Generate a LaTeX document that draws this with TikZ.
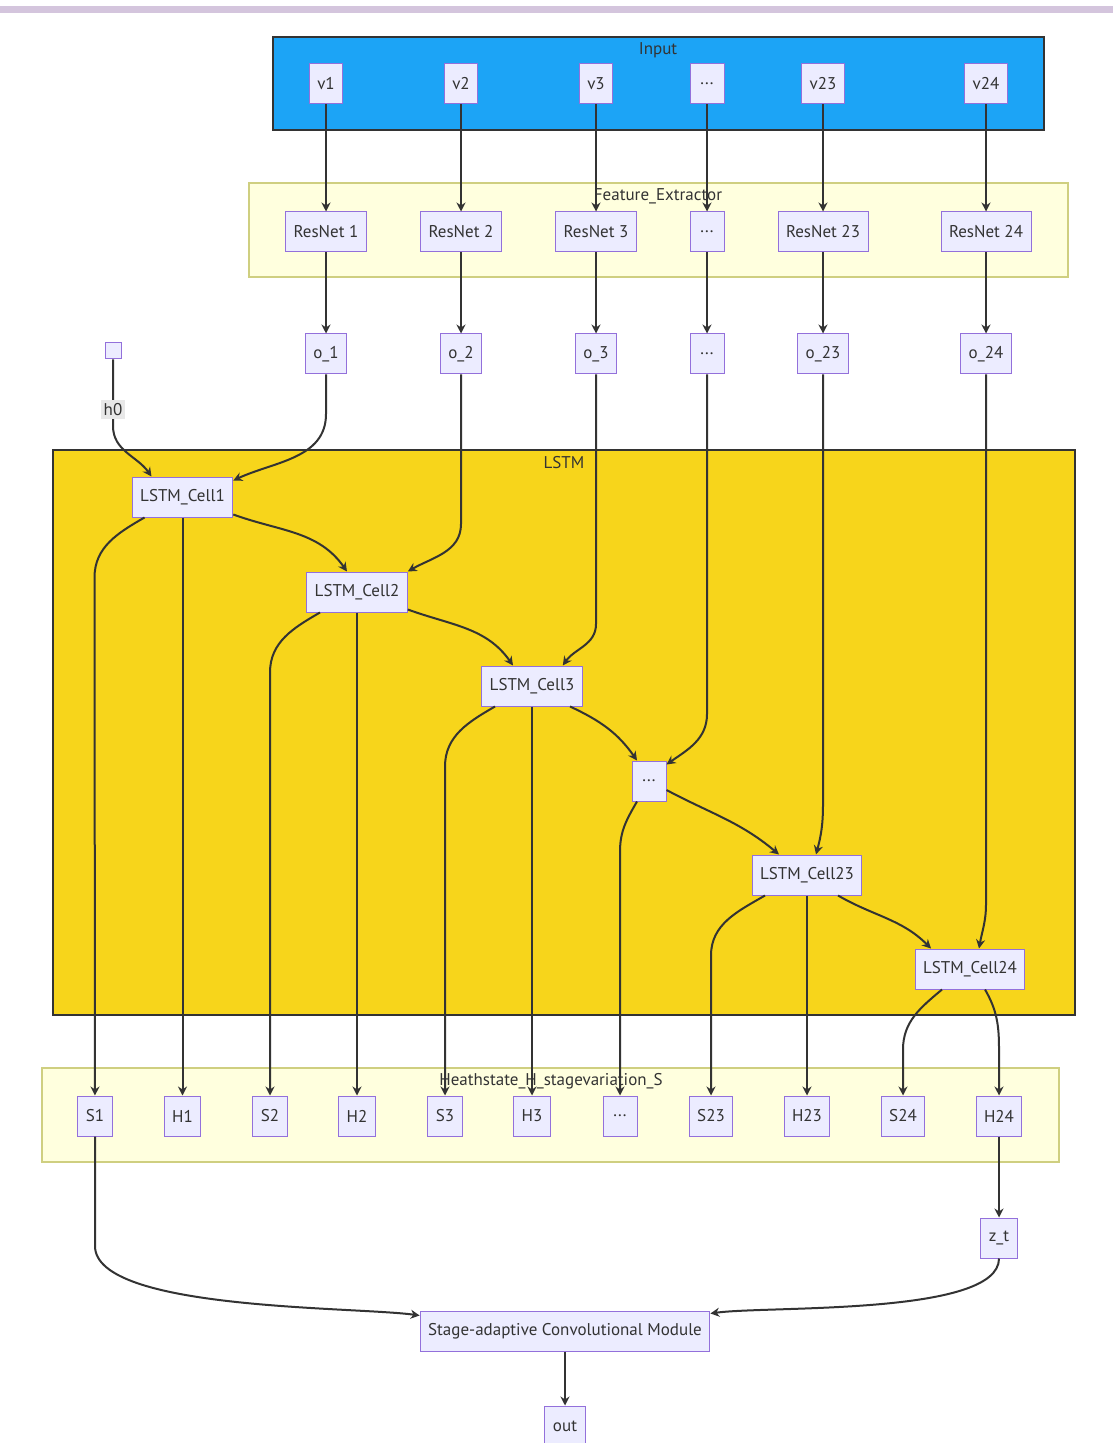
\documentclass[tikz,border=0pt]{standalone}
\usepackage{fontspec}
\setmainfont{PT Sans}
\usepackage{tikz}
\usetikzlibrary{positioning}
\usetikzlibrary{arrows.meta}
\definecolor{nodefill}{HTML}{ECECFF}
\definecolor{nodeline}{HTML}{9370DB}
\definecolor{grpfill}{HTML}{FFFFDE}
\definecolor{grpline}{HTML}{CFCF80}
\definecolor{inblue}{HTML}{1CA4F6}
\definecolor{lstmgold}{HTML}{F7D51B}
\definecolor{edgegrey}{HTML}{333333}
\definecolor{topband}{HTML}{D4C5DD}
\definecolor{lblbg}{HTML}{E8E8E8}

\begin{document}
\begin{tikzpicture}[
x=0.5pt, y=-0.5pt,
>={Stealth[length=4.5pt, width=4.5pt]},
cell/.style={draw=nodeline, fill=nodefill, line width=0.5pt, minimum height=20pt, inner xsep=4pt, text=edgegrey, font=\fontsize{8.5}{10}\selectfont},
dotcell/.style={cell, minimum width=17pt},
grp/.style={draw=grpline, fill=grpfill, line width=0.6pt},
mainbox/.style={draw=edgegrey, line width=1pt},
grplabel/.style={inner sep=1pt, text=edgegrey, font=\fontsize{8.5}{10}\selectfont},
link/.style={->, draw=edgegrey, line width=1pt},
lbl/.style={fill=lblbg, inner sep=1.5pt, text=edgegrey, font=\fontsize{8.5}{10}\selectfont}
]
\useasboundingbox (0,0) rectangle (1113,1443);
\fill[topband] (0,6) rectangle (1113,13);

\draw[mainbox, fill=inblue] (273,37) rectangle (1044,130);
\node[grplabel] (inputlbl) at (658,50) {Input};
\draw[grp] (249,183) rectangle (1068,277);
\node[grplabel] (featlbl) at (658,196) {Feature\_Extractor};
\draw[mainbox, fill=lstmgold] (53,450) rectangle (1075,1015);
\node[grplabel] (lstmlbl) at (564,463) {LSTM};
\draw[grp] (42,1068) rectangle (1059,1162);
\node[grplabel] (hslbl) at (551,1081) {Heathstate\_H\_stagevariation\_S};

\node[cell] (v1) at (326,84) {v1};
\node[cell] (v2) at (461,84) {v2};
\node[cell] (v3) at (596,84) {v3};
\node[dotcell] (vd) at (707,84) {...};
\node[cell] (v23) at (823,84) {v23};
\node[cell] (v24) at (986,84) {v24};

\node[cell, below=53.5pt of v1] (r1) {ResNet 1};
\node[cell, below=53.5pt of v2] (r2) {ResNet 2};
\node[cell, below=53.5pt of v3] (r3) {ResNet 3};
\node[dotcell, below=53.5pt of vd] (rd) {...};
\node[cell, below=53.5pt of v23] (r23) {ResNet 23};
\node[cell, below=53.5pt of v24] (r24) {ResNet 24};

\node[cell, below=40.5pt of r1] (o1) {o\_1};
\node[cell, below=40.5pt of r2] (o2) {o\_2};
\node[cell, below=40.5pt of r3] (o3) {o\_3};
\node[dotcell, below=40.5pt of rd] (od) {...};
\node[cell, below=40.5pt of r23] (o23) {o\_23};
\node[cell, below=40.5pt of r24] (o24) {o\_24};
\node[cell, minimum size=8pt, minimum height=8pt, inner sep=0pt] (h0) at (113,351) {};

\node[cell] (c1) at (182.5,497) {LSTM\_Cell1};
\node[cell] (c2) at (357,592) {LSTM\_Cell2};
\node[cell] (c3) at (532,686) {LSTM\_Cell3};
\node[dotcell] (cd) at (649,781) {...};
\node[cell] (c23) at (807,875) {LSTM\_Cell23};
\node[cell] (c24) at (970,969) {LSTM\_Cell24};

\node[cell] (s1) at (95,1116) {S1};
\node[cell] (h1) at (182.5,1116) {H1};
\node[cell] (s2) at (270,1116) {S2};
\node[cell] (h2) at (357,1116) {H2};
\node[cell] (s3) at (445,1116) {S3};
\node[cell] (h3) at (532,1116) {H3};
\node[dotcell] (sd) at (620,1116) {...};
\node[cell] (s23) at (711,1116) {S23};
\node[cell] (h23) at (807,1116) {H23};
\node[cell] (s24) at (903,1116) {S24};
\node[cell] (h24) at (999,1116) {H24};

\node[cell, below=40.5pt of h24] (zt) {z\_t};
\node[cell] (stage) at (565,1331) {Stage-adaptive Convolutional Module};
\node[cell, below=27pt of stage] (out) {out};

\draw[link] (v1) -- (r1);
\draw[link] (v2) -- (r2);
\draw[link] (v3) -- (r3);
\draw[link] (vd) -- (rd);
\draw[link] (v23) -- (r23);
\draw[link] (v24) -- (r24);
\draw[link] (r1) -- (o1);
\draw[link] (r2) -- (o2);
\draw[link] (r3) -- (o3);
\draw[link] (rd) -- (od);
\draw[link] (r23) -- (o23);
\draw[link] (r24) -- (o24);

\draw[link] (h0) -- node[lbl, pos=0.75] (h0lbl) {h0} ++(0,75) to[out=-90, in=125] ([xshift=-15.5pt]c1.north);
\draw[link] (o1) -- ++(0,60) to[out=-90, in=25] ([yshift=-2pt]c1.north east);
\draw[link] (o2) -- ++(0,170) to[out=-90, in=30] (c2.north east);
\draw[link] (o3) -- ++(0,270) to[out=-90, in=55] ([xshift=-10pt]c3.north east);
\draw[link] (od) -- ++(0,360) to[out=-90, in=35] ([yshift=-2pt]cd.north east);
\draw[link] (o23) -- ++(0,450) to[out=-90, in=75] ([xshift=4.5pt]c23.north);
\draw[link] (o24) -- ++(0,550) to[out=-90, in=80] ([xshift=4.5pt]c24.north);

\draw[link] ([yshift=1.5pt]c1.south east) to[out=-20, in=125] ([xshift=-5pt]c2.north);
\draw[link] ([yshift=1.5pt]c2.south east) to[out=-20, in=125] ([xshift=-9.5pt]c3.north);
\draw[link] ([xshift=19pt]c3.south) to[out=-25, in=125] ([xshift=-6pt]cd.north);
\draw[link] ([yshift=-4.5pt]cd.east) to[out=-28, in=140] ([xshift=-14pt]c23.north);
\draw[link] ([xshift=15.5pt]c23.south) to[out=-30, in=135] ([xshift=-19.5pt]c24.north);

\draw[link] ([xshift=-19pt]c1.south) to[out=210, in=90] ++(-50,60) -- (s1);
\draw[link] (c1) -- (h1);
\draw[link] ([xshift=-18.5pt]c2.south) to[out=210, in=90] ++(-50,60) -- (s2);
\draw[link] (c2) -- (h2);
\draw[link] ([xshift=-18.5pt]c3.south) to[out=210, in=90] ++(-50,60) -- (s3);
\draw[link] (c3) -- (h3);
\draw[link] ([xshift=-6pt]cd.south) to[out=240, in=90] ++(-17,50) -- (sd);
\draw[link] ([xshift=-21pt]c23.south) to[out=210, in=90] ++(-54,60) -- (s23);
\draw[link] (c23) -- (h23);
\draw[link] ([xshift=-14pt]c24.south) to[out=220, in=90] ++(-39,60) -- (s24);
\draw[link] ([xshift=7.5pt]c24.south) to[out=-60, in=90] ++(14,60) -- (h24);

\draw[link] (h24) -- (zt);
\draw[link] (s1) -- ++(0,130) to[out=-90, in=172, looseness=0.5] ([yshift=-2.5pt]stage.north west);
\draw[link] (zt) to[out=-90, in=8, looseness=0.5] ([yshift=-1.5pt]stage.north east);
\draw[link] (stage) -- (out);
\end{tikzpicture}
\end{document}
